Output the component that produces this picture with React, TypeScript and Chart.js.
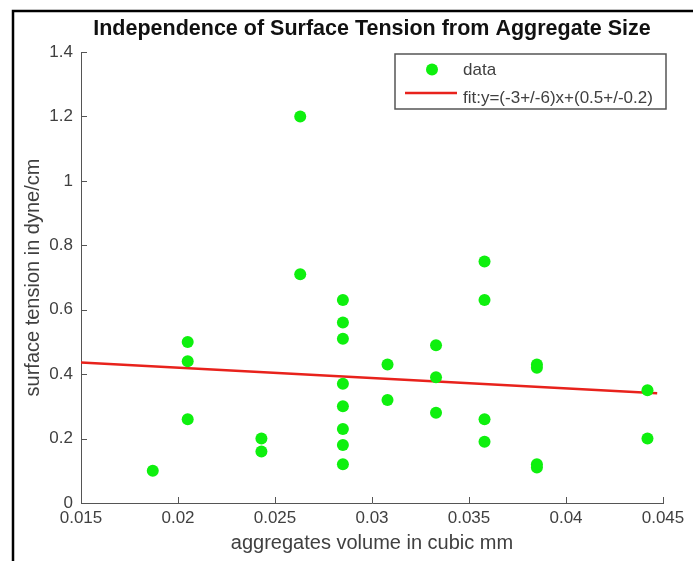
import React, { useEffect, useRef } from "react";
import { Chart, registerables } from "chart.js";

Chart.register(...registerables);

const TITLE = "Independence of Surface Tension from Aggregate Size";
const X_LABEL = "aggregates volume in cubic mm";
const Y_LABEL = "surface tension in dyne/cm";

const volumes = [
  0.0187,
  0.0205, 0.0205, 0.0205,
  0.0243, 0.0243,
  0.0263, 0.0263,
  0.0285, 0.0285, 0.0285, 0.0285, 0.0285, 0.0285, 0.0285, 0.0285,
  0.0308, 0.0308,
  0.0333, 0.0333, 0.0333,
  0.0358, 0.0358, 0.0358, 0.0358,
  0.0385, 0.0385, 0.0385, 0.0385,
  0.0442, 0.0442,
];
const tensions = [
  0.1,
  0.5, 0.44, 0.26,
  0.2, 0.16,
  1.2, 0.71,
  0.63, 0.56, 0.51, 0.37, 0.3, 0.23, 0.18, 0.12,
  0.43, 0.32,
  0.49, 0.39, 0.28,
  0.75, 0.63, 0.26, 0.19,
  0.43, 0.42, 0.12, 0.11,
  0.35, 0.2,
];
const fitX = [0.015, 0.0447];
const fitY = [0.436, 0.341];

const xTicks = [0.015, 0.02, 0.025, 0.03, 0.035, 0.04, 0.045];
const yTicks = [0, 0.2, 0.4, 0.6, 0.8, 1, 1.2, 1.4];

const DATA_LABEL = "data";
const FIT_LABEL = "fit:y=(-3+/-6)x+(0.5+/-0.2)";

const GREEN = "#0ef00e";
const RED = "#e8221c";
const AXIS = "#555555";
const TEXT = "#404040";
const FONT = "Arial, 'Liberation Sans', sans-serif";

const framePlugin = {
  id: "frame",
  beforeDraw(chart: any) {
    const ctx = chart.ctx;
    ctx.save();
    ctx.fillStyle = "#ffffff";
    ctx.fillRect(0, 0, chart.width, chart.height);
    ctx.strokeStyle = "#000000";
    ctx.lineWidth = 2.5;
    ctx.beginPath();
    ctx.moveTo(13, chart.height);
    ctx.lineTo(13, 11);
    ctx.lineTo(chart.width, 11);
    ctx.stroke();
    ctx.restore();
  },
  afterDatasetsDraw(chart: any) {
    const ctx = chart.ctx;
    const xs = chart.scales.x;
    const ys = chart.scales.y;
    const { left, bottom } = chart.chartArea;
    ctx.save();
    ctx.strokeStyle = AXIS;
    ctx.lineWidth = 1;
    ctx.beginPath();
    xs.ticks.forEach((t: any) => {
      const px = Math.round(xs.getPixelForValue(t.value)) + 0.5;
      ctx.moveTo(px, bottom);
      ctx.lineTo(px, bottom - 6);
    });
    ys.ticks.forEach((t: any) => {
      const py = Math.round(ys.getPixelForValue(t.value)) + 0.5;
      ctx.moveTo(left, py);
      ctx.lineTo(left + 6, py);
    });
    ctx.stroke();

    // legend
    const bx = 395, by = 54, bw = 271, bh = 55;
    ctx.fillStyle = "#ffffff";
    ctx.fillRect(bx, by, bw, bh);
    ctx.strokeStyle = AXIS;
    ctx.lineWidth = 1.5;
    ctx.strokeRect(bx, by, bw, bh);
    const ds = chart.data.datasets;
    ctx.fillStyle = ds[0].backgroundColor;
    ctx.beginPath();
    ctx.arc(432, 69.5, 6, 0, Math.PI * 2);
    ctx.fill();
    ctx.strokeStyle = ds[1].borderColor;
    ctx.lineWidth = 2.5;
    ctx.beginPath();
    ctx.moveTo(405, 93);
    ctx.lineTo(457, 93);
    ctx.stroke();
    ctx.fillStyle = TEXT;
    ctx.font = `17px ${FONT}`;
    ctx.textBaseline = "middle";
    ctx.textAlign = "left";
    ctx.fillText(ds[0].label, 463, 70);
    ctx.fillText(ds[1].label, 463, 98);
    ctx.restore();
  },
};

export default function App() {
  const ref = useRef<HTMLCanvasElement | null>(null);

  useEffect(() => {
    if (!ref.current) return;
    const chart = new Chart(ref.current, {
      type: "scatter",
      data: {
        datasets: [
          {
            label: DATA_LABEL,
            data: volumes.map((v, i) => ({ x: v, y: tensions[i] })),
            backgroundColor: GREEN,
            borderColor: GREEN,
            pointRadius: 6,
            pointBorderWidth: 0,
            showLine: false,
          },
          {
            label: FIT_LABEL,
            type: "line" as any,
            data: fitX.map((v, i) => ({ x: v, y: fitY[i] })),
            borderColor: RED,
            backgroundColor: RED,
            borderWidth: 2.5,
            pointRadius: 0,
            showLine: true,
            fill: false,
          },
        ],
      },
      options: {
        responsive: false,
        animation: false,
        layout: { padding: { left: 0, right: 30, top: 0, bottom: 0 } },
        plugins: {
          legend: { display: false },
          tooltip: { enabled: false },
          title: {
            display: true,
            text: TITLE,
            fullSize: false,
            color: "#111111",
            font: { family: FONT, size: 21.5, weight: "bold" },
            padding: { top: 16.1, bottom: 10.1 },
          },
        },
        scales: {
          x: {
            type: "linear",
            min: 0.015,
            max: 0.045,
            afterBuildTicks: (s: any) => {
              s.ticks = xTicks.map((v) => ({ value: v }));
            },
            afterFit: (s: any) => {
              s.height = 58;
            },
            grid: { display: false, drawTicks: false },
            border: { display: true, color: AXIS, width: 1 },
            ticks: {
              color: TEXT,
              font: { family: FONT, size: 17 },
              padding: 5,
              maxRotation: 0,
              autoSkip: false,
              callback: (v: any) => String(+Number(v).toFixed(4)),
            },
            title: {
              display: true,
              text: X_LABEL,
              color: TEXT,
              font: { family: FONT, size: 20 },
              padding: { top: 0, bottom: 6 },
            },
          },
          y: {
            type: "linear",
            min: 0,
            max: 1.4,
            afterBuildTicks: (s: any) => {
              s.ticks = yTicks.map((v) => ({ value: v }));
            },
            afterFit: (s: any) => {
              s.width = 81;
            },
            grid: { display: false, drawTicks: false },
            border: { display: true, color: AXIS, width: 1 },
            ticks: {
              color: TEXT,
              font: { family: FONT, size: 17 },
              padding: 8,
              autoSkip: false,
              callback: (v: any) => String(+Number(v).toFixed(2)),
            },
            title: {
              display: true,
              text: Y_LABEL,
              color: TEXT,
              font: { family: FONT, size: 20 },
              padding: { top: 21, bottom: 0 },
            },
          },
        },
      },
      plugins: [framePlugin],
    });
    return () => chart.destroy();
  }, []);

  return (
    <div style={{ position: "absolute", left: 0, top: 0, width: 693, height: 561 }}>
      <canvas ref={ref} width={693} height={561} style={{ display: "block" }} />
    </div>
  );
}
